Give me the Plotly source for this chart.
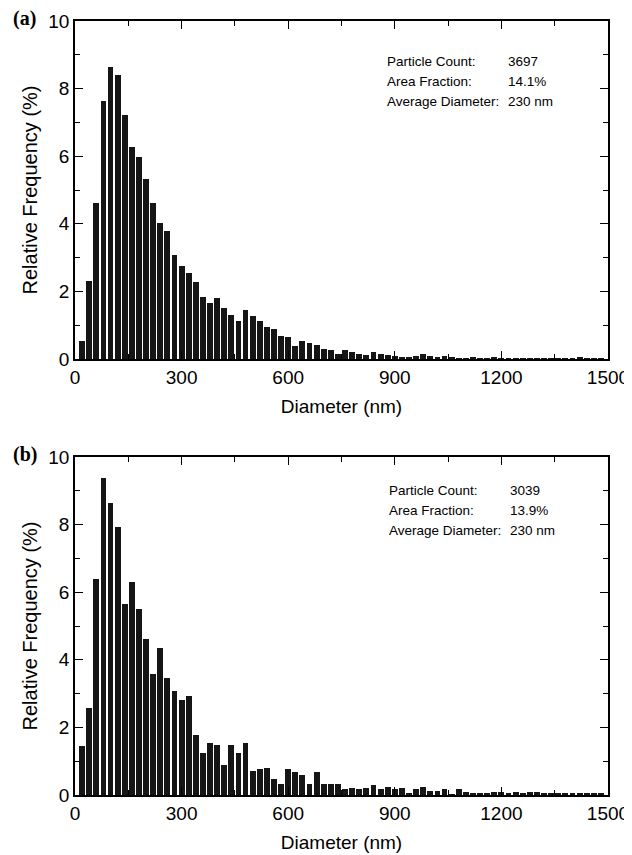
import plotly.graph_objects as go

# Bin centres (nm)
diam_bins = list(range(20, 1500, 20))

# Panel (a) relative frequency (%)
freq_a = [0.54, 2.31, 4.63, 7.64, 8.63, 8.39, 7.21, 6.28, 5.97, 5.34,
          4.63, 4.01, 3.80, 3.08, 2.74, 2.55, 2.28, 1.83, 1.65, 1.80,
          1.50, 1.29, 1.12, 1.44, 1.28, 1.12, 0.94, 0.89, 0.69, 0.65,
          0.39, 0.53, 0.47, 0.42, 0.29, 0.27, 0.16, 0.27, 0.21, 0.16,
          0.13, 0.21, 0.16, 0.13, 0.10, 0.06, 0.06, 0.10, 0.14, 0.09,
          0.06, 0.08, 0.07, 0.02, 0.02, 0.05, 0.02, 0.02, 0.07, 0.02,
          0.01, 0.01, 0.01, 0.01, 0.01, 0.01, 0.01, 0.01, 0.01, 0.01,
          0.05, 0.01, 0.01, 0.01]

# Panel (b) relative frequency (%)
freq_b = [1.46, 2.58, 6.39, 9.37, 8.63, 7.93, 5.66, 6.29, 5.50, 4.62,
          3.57, 4.35, 3.46, 3.08, 2.81, 2.94, 1.79, 1.23, 1.55, 1.47,
          0.90, 1.47, 1.23, 1.55, 0.70, 0.77, 0.80, 0.47, 0.34, 0.77,
          0.67, 0.59, 0.32, 0.67, 0.32, 0.32, 0.34, 0.18, 0.21, 0.18,
          0.21, 0.29, 0.18, 0.25, 0.18, 0.21, 0.07, 0.18, 0.25, 0.12,
          0.12, 0.18, 0.02, 0.18, 0.10, 0.07, 0.04, 0.04, 0.08, 0.08,
          0.03, 0.08, 0.04, 0.08, 0.08, 0.04, 0.04, 0.03, 0.03, 0.03,
          0.03, 0.03, 0.03, 0.03]

x_ticks = [0, 300, 600, 900, 1200, 1500]
y_ticks = [0, 2, 4, 6, 8, 10]

stats_labels = ["Particle Count:", "Area Fraction:", "Average Diameter:"]
stats_a = ["3697", "14.1%", "230 nm"]
stats_b = ["3039", "13.9%", "230 nm"]

FONT = "Liberation Sans, Arial, sans-serif"

# The page body has an 8px default margin, so the figure is sized/positioned to compensate.
W, H = 624, 847
OFF = 8

fig = go.Figure()
fig.add_trace(go.Bar(x=diam_bins, y=freq_a, width=16.5, marker=dict(color="#151515", line=dict(width=0)),
                     xaxis="x", yaxis="y", showlegend=False))
fig.add_trace(go.Bar(x=diam_bins, y=freq_b, width=16.5, marker=dict(color="#151515", line=dict(width=0)),
                     xaxis="x2", yaxis="y2", showlegend=False))

xdom = [(75 - OFF) / W, (608 - OFF) / W]
ydom_a = [1 - (359 - OFF) / H, 1 - (21 - OFF) / H]
ydom_b = [1 - (795 - OFF) / H, 1 - (457 - OFF) / H]

def xaxis_cfg(anchor):
    return dict(domain=xdom, anchor=anchor, range=[0, 1500], tickvals=x_ticks, automargin=False,
                ticks="inside", ticklen=8, tickwidth=1, tickcolor="black",
                minor=dict(ticks="inside", dtick=150, tick0=0, ticklen=5, tickwidth=1, tickcolor="black"),
                showline=True, linecolor="black", linewidth=1.5, mirror="allticks",
                showgrid=False, zeroline=False,
                tickfont=dict(family=FONT, size=19, color="black"),
                title=dict(text="Diameter (nm)", font=dict(family=FONT, size=19, color="black"), standoff=13))

def yaxis_cfg(dom, anchor):
    return dict(domain=dom, anchor=anchor, range=[0, 10], tickvals=y_ticks, automargin=False,
                ticks="inside", ticklen=8, tickwidth=1, tickcolor="black",
                minor=dict(ticks="inside", dtick=1, tick0=0, ticklen=5, tickwidth=1, tickcolor="black"),
                showline=True, linecolor="black", linewidth=1.5, mirror="allticks",
                showgrid=False, zeroline=False,
                tickfont=dict(family=FONT, size=19, color="black"),
                title=dict(text="Relative Frequency (%)", font=dict(family=FONT, size=20, color="black"), standoff=5))

fig.update_layout(
    width=W, height=H,
    margin=dict(l=0, r=0, t=0, b=0, autoexpand=False),
    paper_bgcolor="white", plot_bgcolor="white",
    bargap=0,
    xaxis=xaxis_cfg("y"), yaxis=yaxis_cfg(ydom_a, "x"),
    xaxis2=xaxis_cfg("y2"), yaxis2=yaxis_cfg(ydom_b, "x2"),
)

ann = []
def add_stats(xref, yref, ys, labels, vals, xl, xv):
    for y, lab, v in zip(ys, labels, vals):
        ann.append(dict(x=xl, y=y, xref=xref, yref=yref, text=lab, showarrow=False,
                        xanchor="left", yanchor="middle", font=dict(family=FONT, size=13.5, color="black")))
        ann.append(dict(x=xv, y=y, xref=xref, yref=yref, text=v, showarrow=False,
                        xanchor="left", yanchor="middle", font=dict(family=FONT, size=13.5, color="black")))

add_stats("x", "y", [8.80, 8.21, 7.62], stats_labels, stats_a, 872, 1212)
add_stats("x2", "y2", [9.02, 8.43, 7.84], stats_labels, stats_b, 878, 1218)

ann.append(dict(x=(11 - OFF) / W, y=1 - (18 - OFF) / H, xref="paper", yref="paper", text="<b>(a)</b>", showarrow=False,
                xanchor="left", yanchor="middle", font=dict(family="Liberation Serif, Times New Roman, serif", size=20, color="black")))
ann.append(dict(x=(11 - OFF) / W, y=1 - (454 - OFF) / H, xref="paper", yref="paper", text="<b>(b)</b>", showarrow=False,
                xanchor="left", yanchor="middle", font=dict(family="Liberation Serif, Times New Roman, serif", size=20, color="black")))
fig.update_layout(annotations=ann)

fig.write_html("out.html")
